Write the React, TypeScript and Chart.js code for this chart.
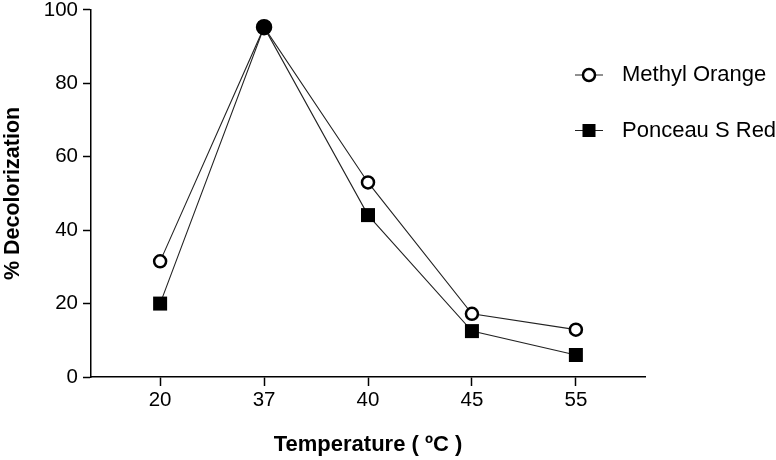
import React, { useEffect, useRef } from 'react';
import { Chart, registerables } from 'chart.js';

Chart.register(...registerables);

const temperatures = ['20', '37', '40', '45', '55'];
const methylOrange = [31.5, 95.3, 53.0, 17.2, 12.9];
const ponceauSRed = [20.0, 95.3, 44.1, 12.5, 6.0];
const yTickValues = [0, 20, 40, 60, 80, 100];

const FONT = '"Liberation Sans", Arial, Helvetica, sans-serif';

const overlaps = (i: number) => Math.abs(methylOrange[i] - ponceauSRed[i]) < 2;

const sideLegend = {
  id: 'sideLegend',
  afterDraw(chart: any) {
    const ctx = chart.ctx as CanvasRenderingContext2D;
    ctx.save();
    chart.data.datasets.forEach((ds: any, i: number) => {
      const y = 75 + i * 55.5;
      const cx = 589;
      ctx.strokeStyle = '#222';
      ctx.lineWidth = 1;
      ctx.beginPath();
      ctx.moveTo(575, y);
      ctx.lineTo(603, y);
      ctx.stroke();
      if (ds.pointStyle === 'circle') {
        ctx.beginPath();
        ctx.arc(cx, y, 6, 0, Math.PI * 2);
        ctx.fillStyle = '#fff';
        ctx.fill();
        ctx.lineWidth = 2.5;
        ctx.strokeStyle = '#000';
        ctx.stroke();
      } else {
        ctx.fillStyle = '#000';
        ctx.fillRect(cx - 6.5, y - 6.5, 13, 13);
      }
      ctx.fillStyle = '#000';
      ctx.font = `22px ${FONT}`;
      ctx.textBaseline = 'middle';
      ctx.textAlign = 'left';
      ctx.fillText(ds.label, 622, y);
    });
    ctx.restore();
  },
};

export default function App() {
  const canvasRef = useRef<HTMLCanvasElement | null>(null);

  useEffect(() => {
    if (!canvasRef.current) return;
    const chart = new Chart(canvasRef.current, {
      type: 'line',
      data: {
        datasets: [
          {
            label: 'Methyl Orange',
            data: methylOrange.map((v, i) => ({ x: i, y: v })),
            borderColor: '#222',
            borderWidth: 1.1,
            pointStyle: 'circle',
            pointRadius: (c: any) => (overlaps(c.dataIndex) ? 7 : 6),
            pointBorderWidth: 2.5,
            pointBorderColor: '#000',
            pointBackgroundColor: (c: any) => (overlaps(c.dataIndex) ? '#000' : '#fff'),
            fill: false,
            tension: 0,
          },
          {
            label: 'Ponceau S Red',
            data: ponceauSRed.map((v, i) => ({ x: i, y: v })),
            borderColor: '#222',
            borderWidth: 1.1,
            pointStyle: 'rect',
            pointRadius: (c: any) => (overlaps(c.dataIndex) ? 8 : 9.9),
            pointBorderWidth: 0,
            pointBorderColor: '#000',
            pointBackgroundColor: '#000',
            fill: false,
            tension: 0,
          },
        ],
      },
      options: {
        animation: false,
        responsive: false,
        layout: { padding: { left: 0, right: 131, top: 9, bottom: 0 } },
        plugins: {
          legend: { display: false },
          tooltip: { enabled: false },
        },
        scales: {
          x: {
            type: 'linear',
            min: -0.665,
            max: 4.665,
            afterBuildTicks: (scale: any) => {
              scale.ticks = temperatures.map((_, i) => ({ value: i }));
            },
            afterFit: (scale: any) => {
              scale.height = 83;
              scale.paddingLeft = 0;
              scale.paddingRight = 0;
            },
            grid: {
              drawOnChartArea: false,
              drawTicks: true,
              tickLength: 9,
              tickColor: '#000',
              tickWidth: 1.5,
            },
            border: { display: true, color: '#000', width: 1.5 },
            ticks: {
              color: '#000',
              font: { family: FONT, size: 20.5, lineHeight: 1 },
              padding: 4,
              autoSkip: false,
              maxRotation: 0,
              callback: (v: any) => temperatures[Math.round(Number(v))] ?? '',
            },
            title: {
              display: true,
              text: 'Temperature ( ºC )',
              color: '#000',
              font: { family: FONT, size: 22, weight: 'bold', lineHeight: 1.2 },
              padding: { top: 0, bottom: 2 },
            },
          },
          y: {
            type: 'linear',
            min: 0,
            max: 100,
            afterBuildTicks: (scale: any) => {
              scale.ticks = yTickValues.map((v) => ({ value: v }));
            },
            afterFit: (scale: any) => {
              scale.width = 91;
              scale.paddingTop = 0;
              scale.paddingBottom = 0;
            },
            grid: {
              drawOnChartArea: false,
              drawTicks: true,
              tickLength: 8,
              tickColor: '#000',
              tickWidth: 1.5,
            },
            border: { display: true, color: '#000', width: 1.5 },
            ticks: {
              color: '#000',
              font: { family: FONT, size: 20.5, lineHeight: 1 },
              padding: 5,
            },
            title: {
              display: true,
              text: '% Decolorization',
              color: '#000',
              font: { family: FONT, size: 21.5, weight: 'bold', lineHeight: 1.2 },
              padding: 0,
            },
          },
        },
      },
      plugins: [sideLegend],
    } as any);
    return () => chart.destroy();
  }, []);

  return (
    <canvas
      ref={canvasRef}
      width={776}
      height={460}
      style={{ position: 'absolute', left: 0, top: 0, display: 'block', background: '#fff' }}
    />
  );
}
